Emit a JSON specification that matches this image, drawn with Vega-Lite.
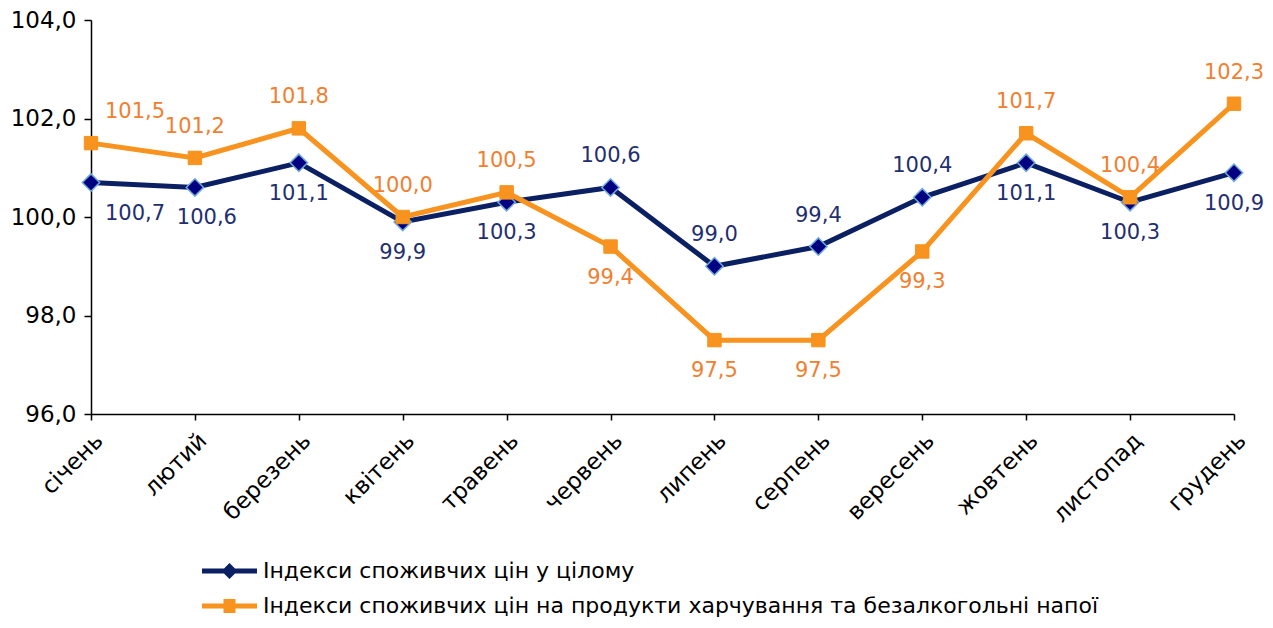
{
  "$schema": "https://vega.github.io/schema/vega-lite/v6.json",
  "autosize": {"type": "none"},
  "width": 1143,
  "height": 394,
  "padding": {"left": 91, "top": 20, "right": 39, "bottom": 214},
  "background": "white",
  "config": {
    "view": {"stroke": null},
    "font": "DejaVu Sans",
    "axis": {"labelFont": "DejaVu Sans", "labelColor": "black", "domainColor": "black", "tickColor": "black", "grid": false, "domainWidth": 1.5, "tickWidth": 1.5}
  },
  "data": {
    "values": [
      {"month": "січень", "series": "Індекси споживчих цін у цілому", "value": 100.7},
      {"month": "лютий", "series": "Індекси споживчих цін у цілому", "value": 100.6},
      {"month": "березень", "series": "Індекси споживчих цін у цілому", "value": 101.1},
      {"month": "квітень", "series": "Індекси споживчих цін у цілому", "value": 99.9},
      {"month": "травень", "series": "Індекси споживчих цін у цілому", "value": 100.3},
      {"month": "червень", "series": "Індекси споживчих цін у цілому", "value": 100.6},
      {"month": "липень", "series": "Індекси споживчих цін у цілому", "value": 99.0},
      {"month": "серпень", "series": "Індекси споживчих цін у цілому", "value": 99.4},
      {"month": "вересень", "series": "Індекси споживчих цін у цілому", "value": 100.4},
      {"month": "жовтень", "series": "Індекси споживчих цін у цілому", "value": 101.1},
      {"month": "листопад", "series": "Індекси споживчих цін у цілому", "value": 100.3},
      {"month": "грудень", "series": "Індекси споживчих цін у цілому", "value": 100.9},
      {"month": "січень", "series": "Індекси споживчих цін на продукти харчування та безалкогольні напої", "value": 101.5},
      {"month": "лютий", "series": "Індекси споживчих цін на продукти харчування та безалкогольні напої", "value": 101.2},
      {"month": "березень", "series": "Індекси споживчих цін на продукти харчування та безалкогольні напої", "value": 101.8},
      {"month": "квітень", "series": "Індекси споживчих цін на продукти харчування та безалкогольні напої", "value": 100.0},
      {"month": "травень", "series": "Індекси споживчих цін на продукти харчування та безалкогольні напої", "value": 100.5},
      {"month": "червень", "series": "Індекси споживчих цін на продукти харчування та безалкогольні напої", "value": 99.4},
      {"month": "липень", "series": "Індекси споживчих цін на продукти харчування та безалкогольні напої", "value": 97.5},
      {"month": "серпень", "series": "Індекси споживчих цін на продукти харчування та безалкогольні напої", "value": 97.5},
      {"month": "вересень", "series": "Індекси споживчих цін на продукти харчування та безалкогольні напої", "value": 99.3},
      {"month": "жовтень", "series": "Індекси споживчих цін на продукти харчування та безалкогольні напої", "value": 101.7},
      {"month": "листопад", "series": "Індекси споживчих цін на продукти харчування та безалкогольні напої", "value": 100.4},
      {"month": "грудень", "series": "Індекси споживчих цін на продукти харчування та безалкогольні напої", "value": 102.3}
    ]
  },
  "transform": [
    {"joinaggregate": [{"op": "max", "field": "value", "as": "mx"}], "groupby": ["month"]},
    {"calculate": "datum.value >= datum.mx", "as": "top"},
    {"calculate": "replace(format(datum.value, '.1f'), '.', ',')", "as": "lbl"},
    {"calculate": "datum.series === 'Індекси споживчих цін у цілому'", "as": "isAll"}
  ],
  "encoding": {
    "x": {
      "field": "month", "type": "ordinal", "sort": null,
      "scale": {"type": "point", "padding": 0},
      "axis": {"title": null, "labelAngle": -45, "labelAlign": "right", "labelBaseline": "top", "labelFontSize": 23, "labelPadding": 9, "tickSize": 6, "labelOverlap": false}
    },
    "y": {
      "field": "value", "type": "quantitative",
      "scale": {"domain": [96, 104], "nice": false, "zero": false},
      "axis": {"title": null, "values": [96, 98, 100, 102, 104], "labelExpr": "replace(format(datum.value, '.1f'), '.', ',')", "labelFontSize": 23, "tickSize": 7, "labelPadding": 8}
    }
  },
  "layer": [
    {
      "transform": [{"filter": "datum.isAll"}],
      "mark": {"type": "line", "color": "#0B1F63", "strokeWidth": 5}
    },
    {
      "transform": [{"filter": "!datum.isAll"}],
      "mark": {"type": "line", "color": "#F7931E", "strokeWidth": 5}
    },
    {
      "transform": [{"filter": "datum.isAll"}],
      "mark": {"type": "point", "shape": "diamond", "filled": true, "fill": "#000080", "stroke": "#6FA8DC", "strokeWidth": 1.5, "size": 300, "opacity": 1}
    },
    {
      "transform": [{"filter": "!datum.isAll"}],
      "mark": {"type": "point", "shape": "square", "filled": true, "fill": "#F7931E", "stroke": "#F7931E", "strokeWidth": 1, "size": 180, "opacity": 1}
    },
    {
      "transform": [{"filter": "datum.top"}],
      "mark": {"type": "text", "fontSize": 21, "baseline": "middle", "align": "center", "dy": -31, "dx": {"expr": "datum.month === 'січень' ? 44 : 0"}},
      "encoding": {
        "text": {"field": "lbl"},
        "color": {"condition": {"test": "datum.isAll", "value": "#1F2F70"}, "value": "#F08030"}
      }
    },
    {
      "transform": [{"filter": "!datum.top"}],
      "mark": {"type": "text", "fontSize": 21, "baseline": "middle", "align": "center", "dy": 31, "dx": {"expr": "datum.month === 'січень' ? 44 : datum.month === 'лютий' ? 12 : 0"}},
      "encoding": {
        "text": {"field": "lbl"},
        "color": {"condition": {"test": "datum.isAll", "value": "#1F2F70"}, "value": "#F08030"}
      }
    },
    {
      "transform": [{"filter": "false"}],
      "mark": {"type": "point", "filled": true, "opacity": 1},
      "encoding": {
        "color": {
          "field": "series", "type": "nominal",
          "scale": {"domain": ["Індекси споживчих цін у цілому", "Індекси споживчих цін на продукти харчування та безалкогольні напої"], "range": ["#0B1F63", "#F7931E"]},
          "legend": {"orient": "none", "legendX": 110, "legendY": 540, "direction": "vertical", "title": null, "symbolSize": 400, "symbolStrokeWidth": 0, "labelFontSize": 22, "labelFont": "DejaVu Sans", "labelColor": "black", "labelOffset": 40, "rowPadding": 13, "labelLimit": 1100}
        },
        "shape": {
          "field": "series", "type": "nominal",
          "scale": {"domain": ["Індекси споживчих цін у цілому", "Індекси споживчих цін на продукти харчування та безалкогольні напої"], "range": ["M-1,-0.25 L1.2,-0.25 L1.75,-0.8 L2.3,-0.25 L4.5,-0.25 L4.5,0.25 L2.3,0.25 L1.75,0.8 L1.2,0.25 L-1,0.25 Z", "M-1,-0.25 L1.15,-0.25 L1.15,-0.7 L2.35,-0.7 L2.35,-0.25 L4.5,-0.25 L4.5,0.25 L2.35,0.25 L2.35,0.7 L1.15,0.7 L1.15,0.25 L-1,0.25 Z"]},
          "legend": {"orient": "none", "legendX": 110, "legendY": 540, "direction": "vertical", "title": null, "symbolSize": 400, "symbolStrokeWidth": 0, "labelFontSize": 22, "labelFont": "DejaVu Sans", "labelColor": "black", "labelOffset": 40, "rowPadding": 13, "labelLimit": 1100}
        }
      }
    }
  ]
}
